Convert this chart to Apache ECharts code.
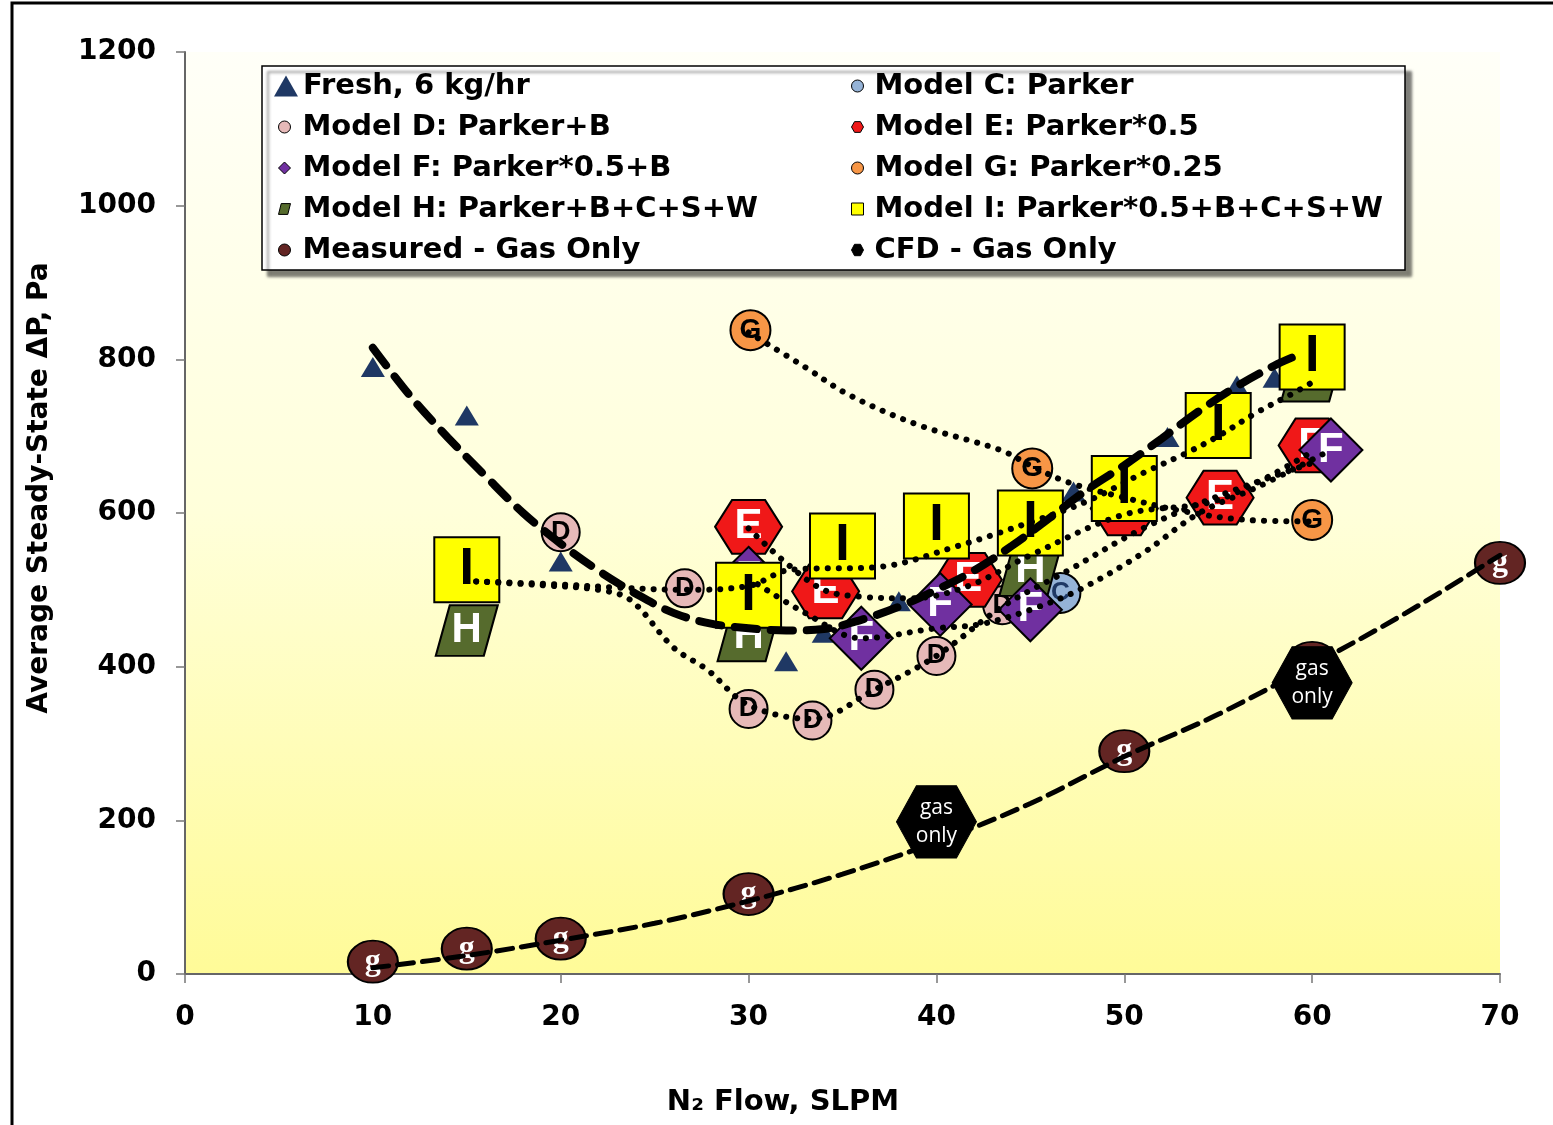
<!DOCTYPE html>
<html>
<head>
<meta charset="utf-8">
<script src="https://cdn.jsdelivr.net/npm/echarts@6/dist/echarts.min.js"></script>
<style>
  html, body { margin: 0; padding: 0; background: #fff; }
  #chart { width: 1553px; height: 1125px; }
</style>
</head>
<body>
<div id="chart"></div>
<script>
// ---- data: [N2 flow (SLPM), average steady-state dP (Pa)] ----
const freshPts    = [[10,790],[15,727],[20,537],[32,407],[34,444],[38,485],[47.3,628],[52.3,699],[56,766],[58,776]];
const modelC      = [[46.6,496]];
const modelD      = [[20,575],[26.6,502],[30,345],[33.4,330],[36.7,370],[40,414],[43.5,480]];
const modelE      = [[30,582],[34.1,498],[41.7,513],[50,606],[55.1,620],[60,688]];
const modelF      = [[30,515],[36,437],[40.2,481],[45,474],[61,682]];
const modelG      = [[30.1,838],[45.1,658],[60,591]];
const modelH      = [[15,447],[30,440],[45,525],[60,778]];
const modelI      = [[15,526],[30,493],[35,557],[40,583],[45,587],[50,632],[55,714],[60,803]];
const measuredGas = [[10,16],[15,33],[20,46],[30,104],[50,290],[60,405],[70,535]];
const cfdGas      = [[40,198],[60,379]];

// trend curves
const fitFresh    = [[10,815],[12,752],[14,698],[16,648],[18,600],[20,560],[22,525],[24,495],[26,470],[28,456],[30,450],[32,447],[34,449],[36,461],[38,478],[40,500],[42,525],[44,557],[46,593],[48,630],[50,662],[52,697],[54,733],[56,765],[58,792],[59,803]];
const fitMeasured = [[10,8],[15,24],[20,44],[25,66],[30,95],[35,130],[40,172],[45,222],[50,283],[55,338],[60,402],[65,470],[70,545]];
const trendD      = [[15.5,511],[19,506],[22,500],[23.7,487],[26,425],[27.8,396],[30,350],[33.4,332],[36.7,370],[40,414],[43.5,478],[47,525],[51,580],[55,622],[60,665]];
const trendE      = [[30,580],[32,535],[34,500],[36,491],[38.7,489],[41.7,505],[45,545],[50,598],[55,617],[60,680]];
const trendF      = [[30,515],[33,470],[36,437],[40,450],[42.3,455],[45,474],[47.6,500],[51,548],[54,600],[57.2,635],[61,682]];
const trendG      = [[30,835],[33,790],[35.4,753],[39.1,714],[43.4,682],[45,662],[47,640],[50,620],[53,603],[56.5,591],[60,589]];
const trendI      = [[15.5,511],[20,507],[23,503],[26.6,500],[30,505],[32.2,526],[37,530],[41,556],[45,588],[48,615],[51,652],[53.3,678],[55,700],[57,730],[59,756],[60,770]];

// series names
const N = {
  fresh: 'Fresh, 6 kg/hr',
  C: 'Model C: Parker',
  D: 'Model D: Parker+B',
  E: 'Model E: Parker*0.5',
  F: 'Model F: Parker*0.5+B',
  G: 'Model G: Parker*0.25',
  H: 'Model H: Parker+B+C+S+W',
  I: 'Model I: Parker*0.5+B+C+S+W',
  meas: 'Measured - Gas Only',
  cfd: 'CFD - Gas Only'
};

const BOLD = 'DejaVu Sans';
const HEX = 'path://M0 30 L17 0 L50 0 L67 30 L50 60 L17 60 Z';
const HEX_CFD = 'path://M0 38 L20 0 L60 0 L80 38 L60 76 L20 76 Z';
const PARA = 'path://M14 0 L62 0 L48 56 L0 56 Z';

function marks(name, data, o) {
  return {
    name, type: 'scatter', data, z: o.z, clip: false,
    symbol: o.symbol, symbolSize: o.size,
    symbolKeepAspect: o.keep !== undefined ? o.keep : true,
    itemStyle: { color: o.color, borderColor: '#000', borderWidth: o.bw !== undefined ? o.bw : 2, opacity: 1 },
    label: o.letter ? {
      show: true, position: 'inside', formatter: o.letter, color: o.lcolor,
      fontSize: o.lsize, fontWeight: o.lweight || 'bold', fontFamily: o.lfont || BOLD,
      lineHeight: o.lh
    } : { show: false },
    emphasis: { disabled: true }
  };
}

function curve(name, data, z, style) {
  return {
    name, type: 'line', data, z, clip: false, silent: true,
    smooth: 0.35, symbol: 'none', showSymbol: false,
    lineStyle: style, emphasis: { disabled: true }
  };
}

const dotted = { color: '#000', width: 6, type: [0.1, 11], cap: 'round' };

const legendText = { color: '#000', fontFamily: BOLD, fontWeight: 'bold', fontSize: 29, lineHeight: 30 };

const chart = echarts.init(document.getElementById('chart'));

chart.setOption({
  animation: false,
  backgroundColor: '#fff',
  grid: {
    left: 185, right: 53, top: 52, bottom: 151,
    show: true, borderWidth: 0,
    backgroundColor: new echarts.graphic.LinearGradient(0, 0, 0, 1, [
      { offset: 0, color: '#FFFFF8' },
      { offset: 0.5, color: '#FFFFDA' },
      { offset: 1, color: '#FFFB98' }
    ])
  },
  xAxis: {
    type: 'value', min: 0, max: 70, interval: 10,
    axisLine: { show: true, onZero: false, lineStyle: { color: '#666', width: 2 } },
    axisTick: { show: true, length: 9, lineStyle: { color: '#777', width: 1.5 } },
    splitLine: { show: false },
    axisLabel: { color: '#000', fontFamily: BOLD, fontWeight: 'bold', fontSize: 28, margin: 30,
                 formatter: v => String(v) }
  },
  yAxis: {
    type: 'value', min: 0, max: 1200, interval: 200,
    axisLine: { show: true, lineStyle: { color: '#666', width: 2 } },
    axisTick: { show: true, length: 9, lineStyle: { color: '#777', width: 1.5 } },
    splitLine: { show: false },
    axisLabel: { color: '#000', fontFamily: BOLD, fontWeight: 'bold', fontSize: 28, margin: 29,
                 formatter: v => String(v) }
  },
  legend: [
    {
      z: 21, orient: 'vertical', left: 269, top: 66,
      itemWidth: 24, itemHeight: 21, itemGap: 11,
      data: [N.fresh], textStyle: legendText, selectedMode: false
    },
    {
      z: 21, orient: 'vertical', left: 273, top: 107,
      itemWidth: 12, itemHeight: 12, itemGap: 11,
      itemStyle: { borderWidth: 1 },
      data: [N.D, N.F, N.H, N.meas],
      textStyle: Object.assign({ padding: [0, 0, 0, 7] }, legendText), selectedMode: false
    },
    {
      z: 21, orient: 'vertical', left: 846, top: 66,
      itemWidth: 12, itemHeight: 12, itemGap: 11,
      itemStyle: { borderWidth: 1 },
      data: [N.C, N.E, N.G, N.I, N.cfd],
      textStyle: Object.assign({ padding: [0, 0, 0, 6] }, legendText), selectedMode: false
    }
  ],
  graphic: [
    { type: 'rect', z: 30, silent: true,
      shape: { x: 12, y: 3, width: 1600, height: 1200 },
      style: { fill: 'none', stroke: '#000', lineWidth: 3 } },
    { type: 'rect', z: 20, silent: true,
      shape: { x: 262, y: 66, width: 1143, height: 204 },
      style: { fill: '#fff', stroke: '#000', lineWidth: 1.5,
               shadowBlur: 3, shadowOffsetX: 6, shadowOffsetY: 6, shadowColor: 'rgba(0,0,0,0.5)' } },
    { type: 'text', z: 21, silent: true, x: 40, y: 488, rotation: Math.PI / 2,
      style: { text: 'Average Steady-State \u0394P, Pa', fill: '#000',
               font: 'bold 28px "DejaVu Sans"', align: 'center', verticalAlign: 'middle' } },
    { type: 'text', z: 21, silent: true, x: 783, y: 1102,
      style: { text: 'N\u2082 Flow, SLPM', fill: '#000',
               font: 'bold 29px "DejaVu Sans"', align: 'center', verticalAlign: 'middle' } }
  ],
  series: [
    marks(N.fresh, freshPts, { z: 2, symbol: 'triangle', size: [24, 20], keep: false, color: '#1F3864', bw: 0 }),
    marks(N.C, modelC, { z: 3, symbol: 'circle', size: 40, color: '#95B3D7', letter: 'C', lcolor: '#1F3864', lsize: 26, lfont: 'Liberation Sans' }),
    marks(N.D, modelD, { z: 4, symbol: 'circle', size: 38, color: '#E6B9B8', letter: 'D', lcolor: '#000', lsize: 27, lfont: 'Liberation Sans' }),
    marks(N.G, modelG, { z: 5, symbol: 'circle', size: 40, color: '#F79646', letter: 'G', lcolor: '#000', lsize: 28, lfont: 'Liberation Sans' }),
    marks(N.H, modelH, { z: 6, symbol: PARA, size: [62, 56], color: '#566B2D', letter: 'H', lcolor: '#fff', lsize: 42, lfont: 'Liberation Sans' }),
    marks(N.E, modelE, { z: 7, symbol: HEX, size: [67, 60], color: '#F01818', letter: 'E', lcolor: '#fff', lsize: 42, lfont: 'Liberation Sans' }),
    marks(N.F, modelF, { z: 8, symbol: 'diamond', size: [63, 63], color: '#7030A0', letter: 'F', lcolor: '#fff', lsize: 42, lfont: 'Liberation Sans' }),
    marks(N.I, modelI, { z: 9, symbol: 'rect', size: [65, 65], color: '#FFFF00', letter: 'I', lcolor: '#000', lsize: 52, lfont: 'Liberation Sans' }),
    marks(N.meas, measuredGas, { z: 10, symbol: 'circle', size: [50, 42], keep: false, color: '#632523', letter: 'g', lcolor: '#fff', lsize: 32, lfont: 'Liberation Serif' }),
    curve('trend D', trendD, 11, dotted),
    curve('trend E', trendE, 11, dotted),
    curve('trend F', trendF, 11, dotted),
    curve('trend G', trendG, 11, dotted),
    curve('trend I', trendI, 11, dotted),
    curve('fresh fit', fitFresh, 12, { color: '#000', width: 8, type: [22, 14], cap: 'round' }),
    curve('gas fit', fitMeasured, 12, { color: '#000', width: 5, type: [16, 9], cap: 'round' }),
    marks(N.cfd, cfdGas, { z: 13, symbol: HEX_CFD, size: [80, 76], color: '#000', bw: 1, letter: 'gas\nonly', lcolor: '#fff', lsize: 21, lweight: 'normal', lfont: 'Open Sans', lh: 28 })
  ]
});
</script>
</body>
</html>
